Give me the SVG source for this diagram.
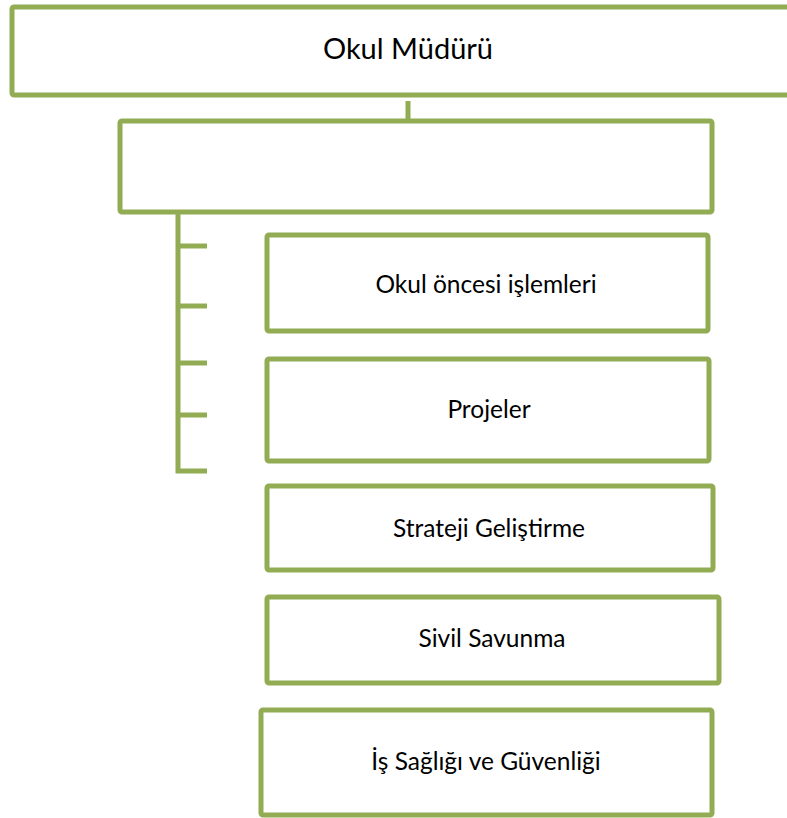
<svg xmlns="http://www.w3.org/2000/svg" width="787" height="818" viewBox="0 0 787 818">
<style>
.box{fill:#ffffff;stroke:#92ac54;stroke-width:5}
.ln{stroke:#92ac54;stroke-width:5;fill:none}
.t{font-family:Lato,"Open Sans",sans-serif;font-size:24.5px;fill:#000;text-anchor:middle}
</style>
<rect width="787" height="818" fill="#ffffff"/>
<g id="connectors">
<line class="ln" x1="408" y1="101" x2="408" y2="121"/>
<polyline class="ln" points="178,212 178,471 207,471"/>
<line class="ln" x1="178" y1="246" x2="207" y2="246"/>
<line class="ln" x1="178" y1="306" x2="207" y2="306"/>
<line class="ln" x1="178" y1="363" x2="207" y2="363"/>
<line class="ln" x1="178" y1="415" x2="207" y2="415"/>
</g>
<g id="n1"><rect class="box" x="12" y="7" width="790" height="88" rx="2"/><text class="t" x="408" y="59" style="font-size:29px">Okul Müdürü</text></g>
<g id="n2"><rect class="box" x="120" y="121" width="592" height="91" rx="2"/></g>
<g id="n3"><rect class="box" x="267" y="235" width="441" height="96" rx="2"/><text class="t" x="486" y="293">Okul öncesi işlemleri</text></g>
<g id="n4"><rect class="box" x="267" y="359" width="442" height="102" rx="2"/><text class="t" x="489" y="418">Projeler</text></g>
<g id="n5"><rect class="box" x="267" y="486" width="446" height="84" rx="2"/><text class="t" x="489" y="537">Strateji Geliştirme</text></g>
<g id="n6"><rect class="box" x="267" y="597" width="452" height="86" rx="2"/><text class="t" x="492" y="647">Sivil Savunma</text></g>
<g id="n7"><rect class="box" x="261" y="710" width="451" height="105" rx="2"/><text class="t" x="486" y="770">İş Sağlığı ve Güvenliği</text></g>
</svg>
